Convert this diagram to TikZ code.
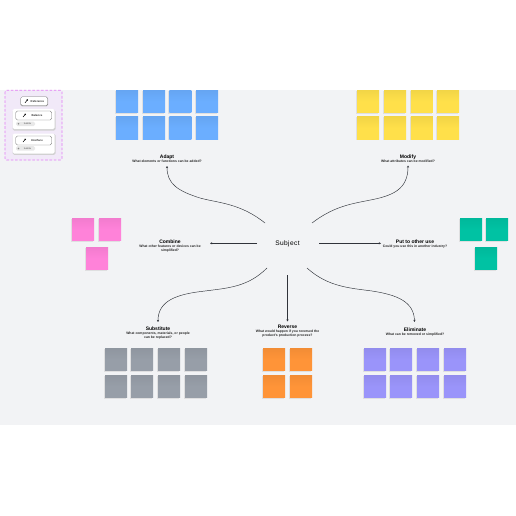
\documentclass[tikz,border=0pt]{standalone}
\usepackage{fontspec}
\setmainfont{Liberation Sans}
\usetikzlibrary{arrows.meta}
\definecolor{panel}{HTML}{F2F3F5}
\definecolor{blueN}{HTML}{6BAEFF}
\definecolor{yellowN}{HTML}{FFE04A}
\definecolor{pinkN}{HTML}{FF82D9}
\definecolor{tealN}{HTML}{00C2A3}
\definecolor{grayN}{HTML}{979EA8}
\definecolor{orangeN}{HTML}{FF9438}
\definecolor{purpleN}{HTML}{9A94FA}
\definecolor{legendN}{HTML}{F1E9F8}
\definecolor{dashN}{HTML}{E27CF5}
\definecolor{inkN}{HTML}{30333A}
\tikzset{
  sticky/.style={anchor=north west,minimum width=22pt,minimum height=22.6pt,inner sep=0pt,
    top color=#1!95!black,bottom color=#1,middle color=#1},
  stickyshade/.style={fill=black!14,opacity=.8},
  ttl/.style={font=\fontsize{5}{6}\selectfont\bfseries,text=black,inner sep=0pt},
  sub/.style={font=\fontsize{3.4}{4.1}\selectfont\bfseries,text=black!85,inner sep=0pt,align=center},
  link/.style={draw=inkN,line width=.45pt,-{Stealth[length=2.2pt,width=2.2pt]}},
  straight/.style={draw=inkN,line width=.65pt,-{Stealth[length=2.2pt,width=2.2pt]}},
  pill/.style={draw=black!55,fill=white,rounded corners=1.6pt,line width=.35pt},
  card/.style={fill=white,rounded corners=1.5pt},
  cardshade/.style={fill=black!18,rounded corners=1.5pt},
  tag/.style={fill=black!9,rounded corners=1.5pt},
  small/.style={font=\fontsize{2.8}{3}\selectfont\bfseries,text=black!80,inner sep=0pt},
  tiny/.style={font=\fontsize{2.2}{3}\selectfont,text=black!70,inner sep=0pt},
}
\newcommand{\stk}[4]{% name, colour, x, y
  \fill[stickyshade] (#3-1,#4+1) rectangle ++(22,22.6);
  \node[sticky=#2] (#1) at (#3,#4) {};
}
\begin{document}
\begin{tikzpicture}[x=1pt,y=-1pt]
\useasboundingbox (0,0) rectangle (516,516);
\fill[white] (0,0) rectangle (516,516);
\fill[panel] (0,90) rectangle (516,425);
% stickies
\foreach \n/\x in {1/116,2/142.8,3/169.2,4/196}{\stk{bA\n}{blueN}{\x}{90}\stk{bB\n}{blueN}{\x}{116.3}}
\foreach \n/\x in {1/357,2/384,3/410.7,4/437}{\stk{yA\n}{yellowN}{\x}{90}\stk{yB\n}{yellowN}{\x}{116.3}}
\stk{p1}{pinkN}{72}{218}\stk{p2}{pinkN}{99}{218}\stk{p3}{pinkN}{86}{247}
\stk{t1}{tealN}{460}{218}\stk{t2}{tealN}{486}{218}\stk{t3}{tealN}{475}{247}
\foreach \n/\x in {1/105,2/131,3/158,4/185}{\stk{gA\n}{grayN}{\x}{348}\stk{gB\n}{grayN}{\x}{375}}
\foreach \n/\x in {1/263,2/290}{\stk{oA\n}{orangeN}{\x}{348}\stk{oB\n}{orangeN}{\x}{375}}
\foreach \n/\x in {1/364,2/390,3/417,4/444}{\stk{uA\n}{purpleN}{\x}{348}\stk{uB\n}{purpleN}{\x}{375}}
% subject
\node[inner sep=0pt,text=black] (subj) at (287.5,244) {\fontsize{6.6}{8}\selectfont\addfontfeature{LetterSpace=6}Subject};
% titles
\node[ttl] (adapt) at (167,157) {Adapt};
\node[sub] (adaptS) at (167,161.6) {What elements or functions can be added?};
\node[ttl] (modify) at (408,157) {Modify};
\node[sub] (modifyS) at (408,161.6) {What attributes can be modified?};
\node[ttl] (combine) at (170,241.3) {Combine};
\node[sub] (combineS) at (170,248.6) {What other features or devices can be\\simplified?};
\node[ttl] (put) at (415,241.8) {Put to other use};
\node[sub] (putS) at (415,246.6) {Could you use this in another industry?};
\node[ttl] (subst) at (158,329) {Substitute};
\node[sub] (substS) at (158,335.6) {What components, materials, or people\\can be replaced?};
\node[ttl] (rev) at (287.5,327.3) {Reverse};
\node[sub] (revS) at (287.5,334) {What would happen if you reversed the\\product's production process?};
\node[ttl] (elim) at (415,329.5) {Eliminate};
\node[sub] (elimS) at (415,334.6) {What can be removed or simplified?};
% free ends
\coordinate (sAdapt) at (265,223);
\coordinate (sModify) at (312,223);
\coordinate (sSub) at (267,268);
\coordinate (sElim) at (307,268);
\coordinate (eAdapt) at (167,166);
\coordinate (eModify) at (408,165.5);
\coordinate (eSub) at (158,322);
\coordinate (eElim) at (414.5,322);
\coordinate (sCom) at (257,243.3);
\coordinate (eCom) at (210,243.3);
\coordinate (sPut) at (319,243.3);
\coordinate (ePut) at (381,243.3);
\coordinate (sRev) at (287.5,275);
\coordinate (eRev) at (287.5,321.5);
\draw[link] (sAdapt) .. controls (240,203) and (218,203) .. (200,198) .. controls (178,191) and (167,184) .. (eAdapt);
\draw[link] (sModify) .. controls (333,207) and (350,204) .. (368,200.5) .. controls (392,196) and (408,190) .. (eModify);
\draw[link] (sSub) .. controls (248,287) and (228,288) .. (205,291) .. controls (178,294) and (158,300) .. (eSub);
\draw[link] (sElim) .. controls (328,287) and (350,288) .. (372,291) .. controls (398,295) and (414,302) .. (eElim);
\draw[straight] (sCom) -- (eCom);
\draw[straight] (sPut) -- (ePut);
\draw[straight] (sRev) -- (eRev);
% legend
\draw[dashN,fill=legendN,line width=.7pt,dash pattern=on 2.6pt off 1.7pt,rounded corners=1.5pt] (5,90.3) rectangle (62,160);
\fill[black!25,rounded corners=1.6pt] (20.4,97.4) rectangle (48,106.4);
\node[pill,minimum width=27pt,minimum height=9pt,inner sep=0pt] (k1) at (34.2,101.2) {};
\node[small] (k1t) at (37.5,101.3) {Reference};
\draw[line width=.5pt] (25,102.8) -- (27,100.4);\fill (27.2,100) circle (.8pt);
\fill[cardshade] (12.7,110) rectangle (55.5,130.6);
\node[card,minimum width=42pt,minimum height=20pt,inner sep=0pt] (c2) at (33.7,119) {};
\node[pill,minimum width=36pt,minimum height=9pt,inner sep=0pt] (k2) at (33.7,115.5) {};
\node[small] (k2t) at (37,115.6) {Balance};
\draw[line width=.5pt] (23,117) -- (25,114.7);\fill (25.2,114.3) circle (.8pt);
\node[tag,minimum width=19pt,minimum height=4.4pt,inner sep=0pt] (g2) at (25.5,123.8) {};
\node[tiny] at (27.5,123.8) {Subtitle};
\fill[black!45] (18.5,123.8) circle (.9pt);
\fill[cardshade] (12.7,134) rectangle (55.5,154.8);
\node[card,minimum width=42pt,minimum height=20pt,inner sep=0pt] (c3) at (33.7,143.5) {};
\node[pill,minimum width=36pt,minimum height=9pt,inner sep=0pt] (k3) at (33.7,140.5) {};
\node[small] (k3t) at (37,140.6) {Interface};
\draw[line width=.5pt] (23,142) -- (25,139.7);\fill (25.2,139.3) circle (.8pt);
\node[tag,minimum width=19pt,minimum height=4.4pt,inner sep=0pt] (g3) at (25.5,148.4) {};
\node[tiny] at (27.5,148.4) {Subtitle};
\fill[black!45] (18.5,148.4) circle (.9pt);
\end{tikzpicture}
\end{document}
